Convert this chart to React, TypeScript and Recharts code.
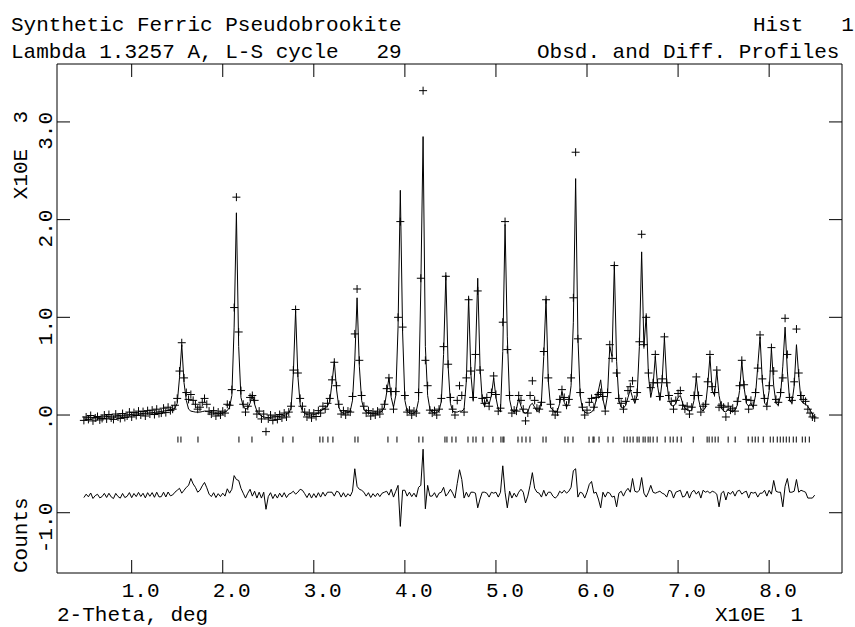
import { ComposedChart, Line, Scatter, XAxis, YAxis } from "recharts";

// scan definition (2-theta, degrees)
const START_2THETA = 4.75;
const STEP_2THETA = 0.25;

// calculated profile, counts
const calc = [
  -30, -30, -28, -27, -26, -25, -24, -22, -20, -18,
  -16, -14, -12, -10, -8, -6, -4, -2, 0, 2,
  4, 6, 8, 10, 12, 14, 16, 18, 20, 22,
  24, 27, 30, 33, 36, 40, 44, 48, 52, 58,
  70, 120, 380, 720, 330, 150, 60, 40, 35, 30,
  30, 30, 35, 40, 35, 30, 25, 20, 15, 15,
  15, 20, 30, 45, 80, 200, 900, 2070, 700, 180,
  90, 60, 70, 120, 210, 110, 40, 10, -10, -20,
  -25, -25, -25, -20, -20, -15, -15, -10, -5, 5,
  20, 70, 420, 1070, 400, 110, 40, 15, 5, 0,
  0, 5, 10, 20, 40, 60, 70, 90, 140, 330,
  550, 260, 80, 30, 20, 20, 25, 40, 150, 560,
  1200, 500, 150, 60, 30, 20, 15, 15, 15, 20,
  25, 40, 80, 230, 380, 180, 80, 200, 900, 2300,
  850, 150, 40, 20, 15, 20, 40, 150, 1300, 2850,
  700, 200, 60, 30, 20, 25, 40, 140, 620, 1430,
  500, 120, 40, 30, 30, 40, 40, 60, 350, 1200,
  420, 150, 600, 1400, 500, 140, 90, 160, 110, 200,
  380, 180, 60, 40, 650, 1950, 800, 160, 50, 30,
  60, 170, 90, 30, 20, 30, 100, 120, 80, 40,
  40, 150, 600, 1190, 350, 80, 50, 30, 40, 120,
  240, 130, 80, 120, 300, 950, 2420, 800, 200, 60,
  30, 20, 20, 30, 60, 150, 250, 360, 160, 60,
  200, 700, 600, 1540, 550, 150, 80, 70, 100, 180,
  260, 180, 120, 200, 700, 1670, 700, 1020, 400, 180,
  300, 600, 300, 150, 350, 790, 350, 150, 100, 90,
  120, 180, 200, 120, 70, 50, 40, 50, 150, 380,
  160, 60, 40, 80, 300, 600, 250, 200, 450, 200,
  80, 40, 30, 60, 40, 30, 50, 100, 250, 550,
  280, 120, 90, 120, 80, 200, 500, 800, 350, 120,
  100, 250, 680, 300, 120, 100, 200, 500, 900, 450,
  150, 120, 300, 720, 400, 150, 120, 110, 90, 50,
  10, -30,
];

// observed counts
const obs = [
  -55, -20, -45, -5, -60, -30, -15, -50, -35, 0,
  -40, 5, -30, -45, 10, -20, -35, 15, -25, -10,
  30, -20, 25, -5, 40, 0, 35, -10, 45, 10,
  50, 5, 60, 15, 20, 70, 25, 80, 45, 60,
  100, 170, 450, 740, 380, 230, 160, 210, 150, 110,
  60, 80, 130, 170, 110, 40, 10, 45, -10, 30,
  0, 40, 20, 110, 100, 260, 1100, 2230, 850, 250,
  110, 30, 90, 180, 200, 150, 10, 40, -40, 10,
  -170, -40, 0, -55, -10, -45, 5, -30, 20, -20,
  30, 90, 460, 1080, 430, 170, 90, 30, -20, 20,
  -30, 20, -15, 45, 20, 90, 60, 120, 170, 360,
  540, 300, 110, 10, 45, 0, 40, 30, 190, 830,
  1290, 560, 200, 90, 20, 45, -10, 30, 0, 40,
  10, 60, 110, 270, 380, 240, 60, 240, 1000, 1980,
  900, 200, 30, 50, 0, 40, 20, 230, 1400, 3320,
  560, 300, 50, 20, 45, 0, 60, 170, 700, 1420,
  520, 180, 60, 0, 150, 300, 200, 30, 380, 1180,
  450, 180, 620, 1270, 460, 170, 120, 180, 90, 230,
  400, 210, 40, 70, 950, 1980, 670, 200, 20, 50,
  40, 200, 150, 60, -60, 20, 200, 350, 150, 70,
  60, 130, 650, 1180, 380, 110, 40, 0, 30, 160,
  260, 180, 100, 160, 380, 1200, 2690, 780, 230, 80,
  0, 50, 130, 170, 80, 180, 210, 230, 190, 40,
  230, 720, 580, 1530, 430, 170, 120, 60, 140, 250,
  290, 350, 160, 230, 750, 1850, 720, 1000, 430, 280,
  330, 620, 330, 190, 370, 800, 330, 200, 140, 60,
  150, 220, 250, 100, 60, 90, 10, 80, 200, 390,
  200, 30, 90, 110, 340, 620, 290, 230, 460, 80,
  100, 80, -20, 90, 50, 70, 40, 140, 300, 560,
  310, 160, 60, 150, 100, 230, 480, 820, 370, 170,
  90, 300, 690, 450, 160, 130, 230, 380, 990, 620,
  180, 150, 340, 880, 430, 200, 160, 140, 60, 20,
  -20, -30,
];

// difference curve as plotted (offset below zero)
const diff = [
  -845, -810, -837, -798, -854, -825, -811, -848, -835, -802,
  -844, -801, -838, -855, -802, -834, -851, -803, -845, -832,
  -794, -846, -803, -835, -792, -834, -801, -848, -795, -832,
  -794, -842, -790, -838, -836, -790, -839, -788, -827, -818,
  -790, -770, -750, -800, -770, -740, -720, -650, -705, -740,
  -790, -770, -725, -690, -745, -810, -835, -795, -845, -805,
  -835, -800, -830, -755, -800, -760, -620, -660, -670, -750,
  -800, -850, -800, -760, -830, -780, -850, -790, -850, -790,
  -965, -835, -795, -855, -810, -850, -800, -840, -795, -845,
  -810, -800, -780, -810, -790, -760, -770, -805, -845, -800,
  -850, -805, -845, -795, -840, -790, -830, -790, -790, -790,
  -830, -780, -790, -840, -795, -840, -805, -830, -780, -550,
  -730, -760, -770, -790, -830, -795, -845, -805, -835, -800,
  -835, -800, -790, -780, -820, -760, -840, -780, -720, -1140,
  -770, -770, -830, -790, -835, -800, -840, -740, -720, -350,
  -960, -720, -830, -830, -795, -845, -800, -790, -740, -830,
  -800, -760, -800, -850, -700, -560, -660, -850, -790, -840,
  -790, -790, -800, -950, -860, -790, -790, -800, -840, -790,
  -800, -790, -840, -790, -520, -790, -950, -780, -850, -800,
  -840, -790, -760, -790, -900, -830, -720, -590, -750, -790,
  -800, -840, -770, -830, -790, -790, -830, -850, -830, -780,
  -800, -770, -800, -780, -740, -570, -550, -840, -790, -800,
  -850, -790, -710, -680, -800, -790, -860, -950, -790, -840,
  -790, -800, -840, -830, -940, -800, -780, -830, -780, -750,
  -790, -650, -780, -790, -770, -640, -800, -840, -790, -720,
  -790, -800, -790, -780, -800, -810, -840, -770, -780, -850,
  -790, -780, -770, -840, -830, -780, -850, -790, -770, -810,
  -780, -850, -770, -790, -780, -800, -780, -790, -810, -940,
  -800, -780, -870, -790, -810, -780, -830, -780, -770, -810,
  -790, -780, -850, -790, -800, -790, -840, -800, -800, -770,
  -830, -770, -810, -670, -780, -790, -790, -940, -730, -650,
  -790, -790, -780, -660, -790, -770, -780, -790, -850, -850,
  -850, -820,
];

// reflection positions, 2-theta degrees
const reflections = [
  15.08, 15.41, 17.28, 21.78, 23.21, 26.61, 27.71, 30.67, 31.0, 31.55,
  32.1, 34.52, 34.85, 38.14, 39.13, 41.54, 41.98, 44.4, 44.62, 45.17,
  45.61, 46.93, 47.48, 47.81, 48.58, 49.67, 50.55, 50.77, 50.88, 52.42,
  52.86, 53.3, 53.74, 55.17, 55.5, 57.58, 57.91, 58.46, 60.22, 60.66,
  60.77, 61.32, 62.31, 62.86, 64.07, 64.4, 64.73, 65.06, 65.5, 65.72,
  66.16, 66.38, 66.71, 66.93, 67.26, 67.7, 68.58, 69.13, 69.46, 69.9,
  70.34, 71.66, 73.19, 73.41, 73.74, 74.07, 74.4, 75.5, 76.27, 77.7,
  78.14, 78.47, 78.8, 79.35, 80.12, 80.45, 80.89, 81.22, 81.55, 81.88,
  82.21, 82.65, 82.98, 83.64, 83.97, 84.41,
];

const X_TICKS = [10, 20, 30, 40, 50, 60, 70, 80];
const Y_TICKS = [-1000, 0, 1000, 2000, 3000];
const X_DOMAIN = [1.8, 88.0];
const Y_DOMAIN = [-1617, 3593];
const REFL_LEVEL = -251;

const rows = obs.map((o, i) => ({
  tt: START_2THETA + i * STEP_2THETA,
  obs: o,
  calc: calc[i],
  diff: diff[i],
}));
const reflRows = reflections.map((tt) => ({ tt, level: REFL_LEVEL }));

const FONT = '"Liberation Mono", "Courier New", monospace';
const FS = 21;
const TICK_LEN = 13;

const fmtX = (v: number) => (v / 10).toFixed(1);
const fmtY = (v: number) => (v / 1000).toFixed(1).replace(/^(-?)0\./, "$1.");

function BottomTick({ x, y, payload }: any) {
  return (
    <g>
      <line x1={x} y1={y} x2={x} y2={y - TICK_LEN} stroke="#000" />
      <text x={x - 10} y={y + 24} fontFamily={FONT} fontSize={FS} fill="#000">
        {fmtX(payload.value)}
      </text>
    </g>
  );
}

function TopTick({ x, y }: any) {
  return <line x1={x} y1={y} x2={x} y2={y + TICK_LEN} stroke="#000" />;
}

function LeftTick({ x, y, payload }: any) {
  const lx = x - 5;
  const ly = y - 10;
  return (
    <g>
      <line x1={x} y1={y} x2={x + TICK_LEN} y2={y} stroke="#000" />
      <text
        x={lx}
        y={ly}
        transform={`rotate(-90, ${lx}, ${ly})`}
        textAnchor="end"
        fontFamily={FONT}
        fontSize={FS}
        fill="#000"
      >
        {fmtY(payload.value)}
      </text>
    </g>
  );
}

function RightTick({ x, y }: any) {
  return <line x1={x} y1={y} x2={x - TICK_LEN} y2={y} stroke="#000" />;
}

function Plus({ cx, cy }: any) {
  if (cx == null || cy == null) return null;
  return <path d={`M${cx - 4},${cy}H${cx + 4}M${cx},${cy - 4}V${cy + 4}`} stroke="#000" strokeWidth={1} fill="none" />;
}

function ReflMark({ cx, cy }: any) {
  if (cx == null || cy == null) return null;
  return <path d={`M${cx},${cy - 3}V${cy + 3}`} stroke="#000" strokeWidth={1} />;
}

export default function App() {
  return (
    <div style={{ position: "absolute", left: 0, top: 0, width: 855, height: 627, background: "#fff" }}>
      <ComposedChart
        width={855}
        height={627}
        data={rows}
        margin={{ top: 63, right: 12, bottom: 53, left: 56 }}
      >
        <XAxis
          dataKey="tt"
          type="number"
          domain={X_DOMAIN}
          ticks={X_TICKS}
          interval={0}
          allowDataOverflow
          height={1}
          tickSize={0}
          tickMargin={0}
          tickLine={false}
          axisLine={{ stroke: "#000" }}
          tick={<BottomTick />}
        />
        <XAxis
          xAxisId="top"
          orientation="top"
          dataKey="tt"
          type="number"
          domain={X_DOMAIN}
          ticks={X_TICKS}
          interval={0}
          allowDataOverflow
          height={1}
          tickSize={0}
          tickMargin={0}
          tickLine={false}
          axisLine={{ stroke: "#000" }}
          tick={<TopTick />}
        />
        <YAxis
          type="number"
          domain={Y_DOMAIN}
          ticks={Y_TICKS}
          interval={0}
          allowDataOverflow
          width={1}
          tickSize={0}
          tickMargin={0}
          tickLine={false}
          axisLine={{ stroke: "#000" }}
          tick={<LeftTick />}
        />
        <YAxis
          yAxisId="right"
          orientation="right"
          type="number"
          domain={Y_DOMAIN}
          ticks={Y_TICKS}
          interval={0}
          allowDataOverflow
          width={1}
          tickSize={0}
          tickMargin={0}
          tickLine={false}
          axisLine={{ stroke: "#000" }}
          tick={<RightTick />}
        />
        <Line dataKey="calc" stroke="#000" strokeWidth={1} dot={false} activeDot={false} isAnimationActive={false} />
        <Line dataKey="diff" stroke="#000" strokeWidth={1} dot={false} activeDot={false} isAnimationActive={false} />
        <Scatter dataKey="obs" shape={<Plus />} isAnimationActive={false} />
        <Scatter data={reflRows} dataKey="level" shape={<ReflMark />} isAnimationActive={false} />
      </ComposedChart>
      <svg
        width={855}
        height={627}
        style={{ position: "absolute", left: 0, top: 0, pointerEvents: "none" }}
        fontFamily={FONT}
        fontSize={FS}
        fill="#000"
      >
        <text x={11} y={31} xmlSpace="preserve">Synthetic Ferric Pseudobrookite</text>
        <text x={11} y={58} xmlSpace="preserve">Lambda 1.3257 A, L-S cycle   29</text>
        <text x={753} y={31} xmlSpace="preserve">Hist   1</text>
        <text x={537} y={58} xmlSpace="preserve">Obsd. and Diff. Profiles</text>
        <text x={57} y={621} xmlSpace="preserve">2-Theta, deg</text>
        <text x={715} y={621} xmlSpace="preserve">X10E  1</text>
        <text x={27} y={573} transform="rotate(-90, 27, 573)" xmlSpace="preserve">Counts</text>
        <text x={27} y={111} transform="rotate(-90, 27, 111)" textAnchor="end" xmlSpace="preserve">X10E  3</text>
      </svg>
    </div>
  );
}
